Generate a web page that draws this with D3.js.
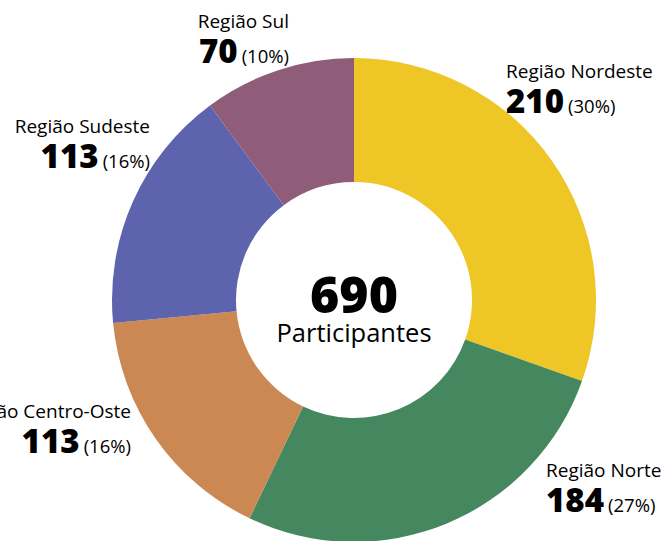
<!DOCTYPE html>
<html>
<head>
<meta charset="utf-8">
<script src="https://cdn.jsdelivr.net/npm/d3@7"></script>
<style>
  body { margin: 0; background: #fff; }
  svg { display: block; font-family: "Open Sans", sans-serif; }
</style>
</head>
<body>
<div class="js-chart"></div>
<script>
var regions = ['Região Nordeste', 'Região Norte', 'Região Centro-Oste', 'Região Sudeste', 'Região Sul'];
var values = [210, 184, 113, 113, 70];
var colors = ['#eec727', '#45875e', '#cc8852', '#5d63ac', '#8f5d7a'];

var width = 669,
    height = 541,
    cx = 354,
    cy = 300,
    outerRadius = 242,
    innerRadius = 118;

// label placement, relative to the donut centre
var labelLayout = [
  { dx: 152, dy: -222, anchor: 'start' },
  { dx: 192, dy: 177, anchor: 'start' },
  { dx: -223, dy: 118, anchor: 'end' },
  { dx: -204, dy: -167, anchor: 'end' },
  { dx: -65, dy: -272, anchor: 'end' }
];

var total = d3.sum(values);
var items = regions.map(function (name, i) {
  return { name: name, value: values[i], color: colors[i], layout: labelLayout[i] };
});

var svg = d3.select('.js-chart').append('svg')
            .attr('width', width)
            .attr('height', height);

var g = svg.append('g')
           .attr('transform', `translate(${cx}, ${cy})`);

var pie = d3.pie()
            .sort(null)
            .value(function (d) { return d.value; });

var arc = d3.arc()
            .innerRadius(innerRadius)
            .outerRadius(outerRadius);

g.selectAll('path.slice')
 .data(pie(items))
 .enter()
 .append('path')
 .attr('class', 'slice')
 .attr('d', arc)
 .attr('fill', function (d) { return d.data.color; });

// centre total
g.append('text')
 .attr('text-anchor', 'middle')
 .attr('y', 13)
 .style('font-size', '50px')
 .style('font-weight', 800)
 .text(total);

g.append('text')
 .attr('text-anchor', 'middle')
 .attr('y', 42)
 .style('font-size', '25.5px')
 .text('Participantes');

var labels = g.selectAll('g.label')
              .data(items)
              .enter()
              .append('g')
              .attr('class', 'label')
              .attr('transform', function (d) { return `translate(${d.layout.dx}, ${d.layout.dy})`; });

labels.append('text')
      .attr('text-anchor', function (d) { return d.layout.anchor; })
      .style('font-size', '19px')
      .text(function (d) { return d.name; });

var valueText = labels.append('text')
                      .attr('text-anchor', function (d) { return d.layout.anchor; })
                      .attr('y', 35);

valueText.append('tspan')
         .style('font-size', '33px')
         .style('font-weight', 800)
         .text(function (d) { return d.value; });

valueText.append('tspan')
         .attr('dx', 4)
         .style('font-size', '18.5px')
         .text(function (d) { return `(${Math.round(d.value / total * 100)}%)`; });
</script>
</body>
</html>
